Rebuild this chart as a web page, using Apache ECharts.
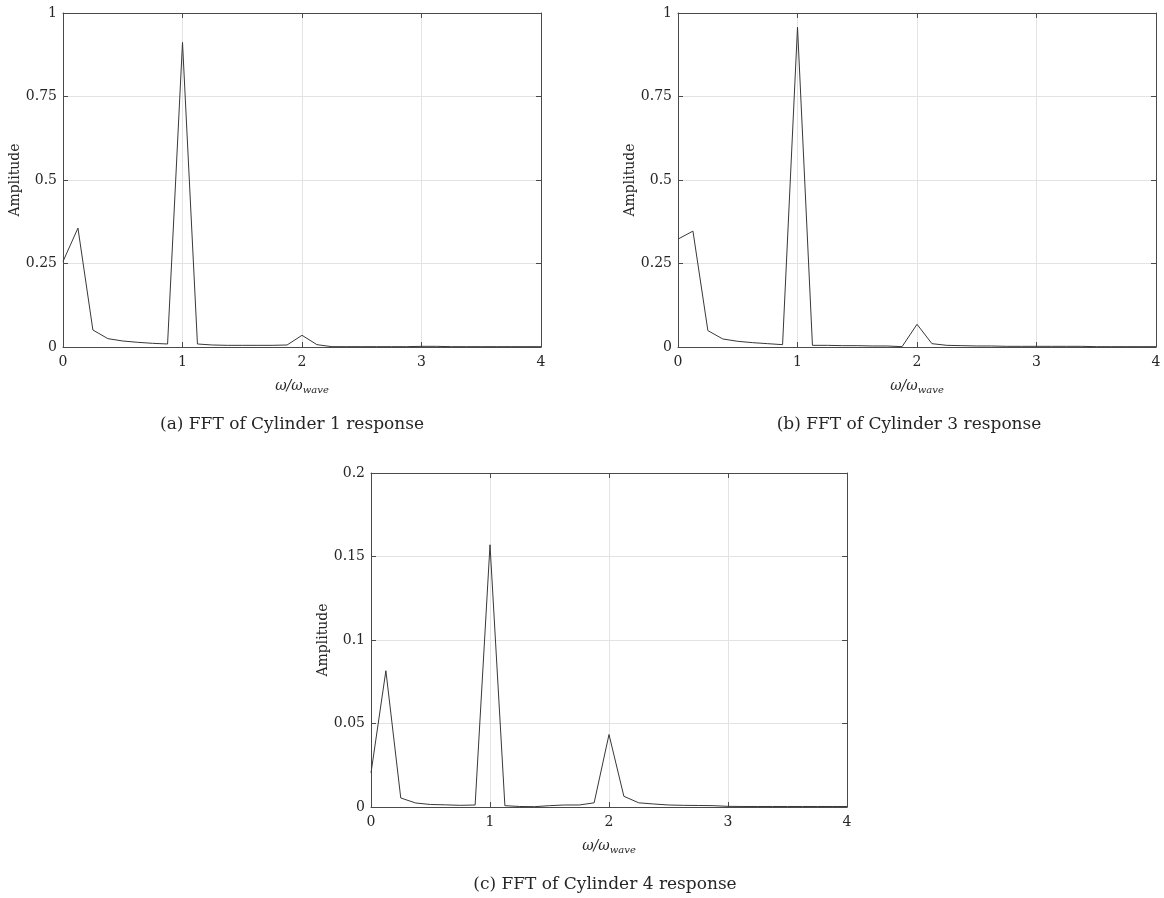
<!DOCTYPE html>
<html>
<head>
<meta charset="utf-8">
<script src="https://cdn.jsdelivr.net/npm/echarts@6/dist/echarts.min.js"></script>
<style>
html,body{margin:0;padding:0;background:#fff;}
#chart{width:1164px;height:898px;}
</style>
</head>
<body>
<div id="chart"></div>
<script>
// Frequency ratio omega/omega_wave (sample points)
var freq = [0,0.125,0.25,0.375,0.5,0.625,0.75,0.875,1,1.125,1.25,1.375,1.5,1.625,1.75,1.875,2,2.125,2.25,2.375,2.5,2.625,2.75,2.875,3,3.125,3.25,3.375,3.5,3.625,3.75,3.875,4];

// Amplitudes
var cyl1 = [0.256,0.356,0.051,0.025,0.018,0.014,0.011,0.009,0.912,0.009,0.006,0.005,0.005,0.005,0.005,0.006,0.035,0.007,0.001,0.001,0.001,0.001,0.001,0.001,0.002,0.002,0.001,0.001,0.001,0.001,0.001,0.001,0.001];
var cyl3 = [0.323,0.347,0.049,0.024,0.017,0.013,0.010,0.007,0.958,0.005,0.005,0.004,0.004,0.003,0.003,0.001,0.068,0.010,0.005,0.004,0.003,0.003,0.002,0.002,0.002,0.002,0.002,0.002,0.001,0.001,0.001,0.001,0.001];
var cyl4 = [0.0204,0.0816,0.0054,0.0024,0.0015,0.0013,0.0010,0.0012,0.157,0.0008,0.0003,0.0002,0.0008,0.0012,0.0012,0.0025,0.0434,0.0064,0.0025,0.0018,0.0012,0.0010,0.0009,0.0008,0.0004,0.0003,0.0003,0.0003,0.0003,0.0003,0.0003,0.0003,0.0003];

// Axis settings
var xTicks = [0,1,2,3,4];
var yTicksAB = [0,0.25,0.5,0.75,1];
var yTicksC = [0,0.05,0.1,0.15,0.2];

// Texts
var captions = ["(a) FFT of Cylinder 1 response","(b) FFT of Cylinder 3 response","(c) FFT of Cylinder 4 response"];
var yName = "Amplitude";

var FONT = "DejaVu Serif";
var AXC = "#4a4a4a";
var TXT = "#262626";

var grids = [
  {left:63, top:13, width:478, height:334},
  {left:678, top:13, width:478, height:334},
  {left:371, top:473, width:476, height:334}
];

function pairs(ys){ return freq.map(function(x,i){ return [x, ys[i]]; }); }

var xAxes = [], yAxes = [], series = [];
var seriesData = [cyl1, cyl3, cyl4];
var yMax = [yTicksAB[yTicksAB.length-1], yTicksAB[yTicksAB.length-1], yTicksC[yTicksC.length-1]];
var yInt = [yTicksAB[1]-yTicksAB[0], yTicksAB[1]-yTicksAB[0], yTicksC[1]-yTicksC[0]];

grids.forEach(function(g, i){
  xAxes.push({
    gridIndex:i, type:'value', min:xTicks[0], max:xTicks[xTicks.length-1], interval:1,
    position:'bottom',
    name:'{a|ω/ω}{b|wave}', nameLocation:'middle', nameGap:30,
    nameTextStyle:{rich:{
      a:{fontFamily:FONT, fontStyle:'italic', fontSize:14, color:TXT, lineHeight:18, verticalAlign:'middle'},
      b:{fontFamily:FONT, fontStyle:'italic', fontSize:10, color:TXT, lineHeight:11, verticalAlign:'bottom'}
    }},
    axisLine:{show:true, onZero:false, lineStyle:{color:AXC, width:1}},
    axisTick:{show:true, inside:true, length:5, lineStyle:{color:AXC}},
    axisLabel:{fontFamily:FONT, fontSize:14, color:TXT, margin:8},
    splitLine:{show:true, lineStyle:{color:'#e3e3e3', width:1}}
  });
  xAxes.push({
    gridIndex:i, type:'value', min:xTicks[0], max:xTicks[xTicks.length-1], interval:1,
    position:'top',
    axisLine:{show:true, onZero:false, lineStyle:{color:AXC, width:1}},
    axisTick:{show:true, inside:true, length:5, lineStyle:{color:AXC}},
    axisLabel:{show:false}, splitLine:{show:false}
  });
  yAxes.push({
    gridIndex:i, type:'value', min:0, max:yMax[i], interval:yInt[i],
    position:'left',
    name:yName, nameLocation:'middle', nameGap:40,
    nameRotate:90,
    nameTextStyle:{fontFamily:FONT, fontSize:14, color:TXT},
    axisLine:{show:true, onZero:false, lineStyle:{color:AXC, width:1}},
    axisTick:{show:true, inside:true, length:5, lineStyle:{color:AXC}},
    axisLabel:{fontFamily:FONT, fontSize:14, color:TXT, margin:6},
    splitLine:{show:true, lineStyle:{color:'#e3e3e3', width:1}}
  });
  yAxes.push({
    gridIndex:i, type:'value', min:0, max:yMax[i], interval:yInt[i],
    position:'right',
    axisLine:{show:true, onZero:false, lineStyle:{color:AXC, width:1}},
    axisTick:{show:true, inside:true, length:5, lineStyle:{color:AXC}},
    axisLabel:{show:false}, splitLine:{show:false}
  });
  series.push({
    type:'line', xAxisIndex:i*2, yAxisIndex:i*2, data:pairs(seriesData[i]),
    showSymbol:false, symbol:'none', animation:false,
    lineStyle:{color:'#383838', width:1}
  });
});

var capPos = [[292,425],[909,425],[605,885]];

var chart = echarts.init(document.getElementById('chart'), null, {renderer:'canvas'});
chart.setOption({
  backgroundColor:'#ffffff',
  animation:false,
  grid:grids,
  xAxis:xAxes,
  yAxis:yAxes,
  series:series,
  graphic:captions.map(function(c, i){
    return {type:'text', x:capPos[i][0], y:capPos[i][1],
      style:{text:c, fontFamily:FONT, fontSize:17, fill:TXT, align:'center', verticalAlign:'middle'}};
  })
});
</script>
</body>
</html>
